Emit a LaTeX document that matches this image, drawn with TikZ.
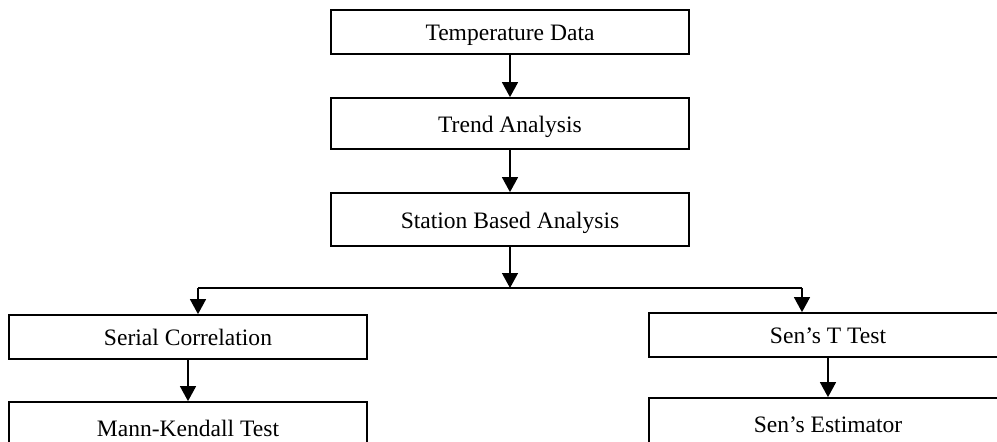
\documentclass[tikz,border=0pt]{standalone}
\usepackage{fontspec}
\setmainfont{Liberation Serif}
\usepackage{tikz}
\usetikzlibrary{arrows.meta,positioning,calc}
\tikzset{
  flowbox/.style={draw=black,line width=1pt,fill=white,minimum width=7.16cm,
                  minimum height=#1,inner sep=0pt,text height=11pt,text depth=1pt,
                  font=\fontsize{13.4}{16}\selectfont},
  flowbox/.default=0.88cm,
  flowarrow/.style={-{Triangle[length=3mm,width=3.2mm]},line width=0.8pt},
}

\begin{document}
\begin{tikzpicture}[x=0.02cm, y=-0.02cm]

\useasboundingbox (0,0) rectangle (997,442);
\clip (0,0) rectangle (997,442);

% main chain
\node[flowbox=0.88cm] (temp)    at (510,32)    {Temperature Data};
\node[flowbox=1.02cm] (trend)   at (510,123.5) {Trend Analysis};
\node[flowbox=1.06cm] (station) at (510,219.5) {Station Based Analysis};

% two branches
\node[flowbox=0.88cm] (serial) at (188,337) {Serial Correlation};
\node[flowbox=1.04cm] (mann)   at (188,428) {Mann-Kendall Test};
\node[flowbox=0.88cm] (senT)   at (828,335) {Sen’s T Test};
\node[flowbox=1.04cm] (senE)   at (828,424) {Sen’s Estimator};

% split line
\coordinate (split)  at (510,288);
\coordinate (splitL) at (198,288);
\coordinate (splitR) at (802,288);

\draw[flowarrow] (temp) -- (trend);
\draw[flowarrow] (trend) -- (station);
\draw[flowarrow] (station) -- (split);
\draw[line width=0.8pt] (splitL) -- (splitR);
\draw[flowarrow] (splitL) -- (splitL |- serial.north);
\draw[flowarrow] (splitR) -- (splitR |- senT.north);
\draw[flowarrow] (serial) -- (mann);
\draw[flowarrow] (senT) -- (senE);

\end{tikzpicture}
\end{document}
